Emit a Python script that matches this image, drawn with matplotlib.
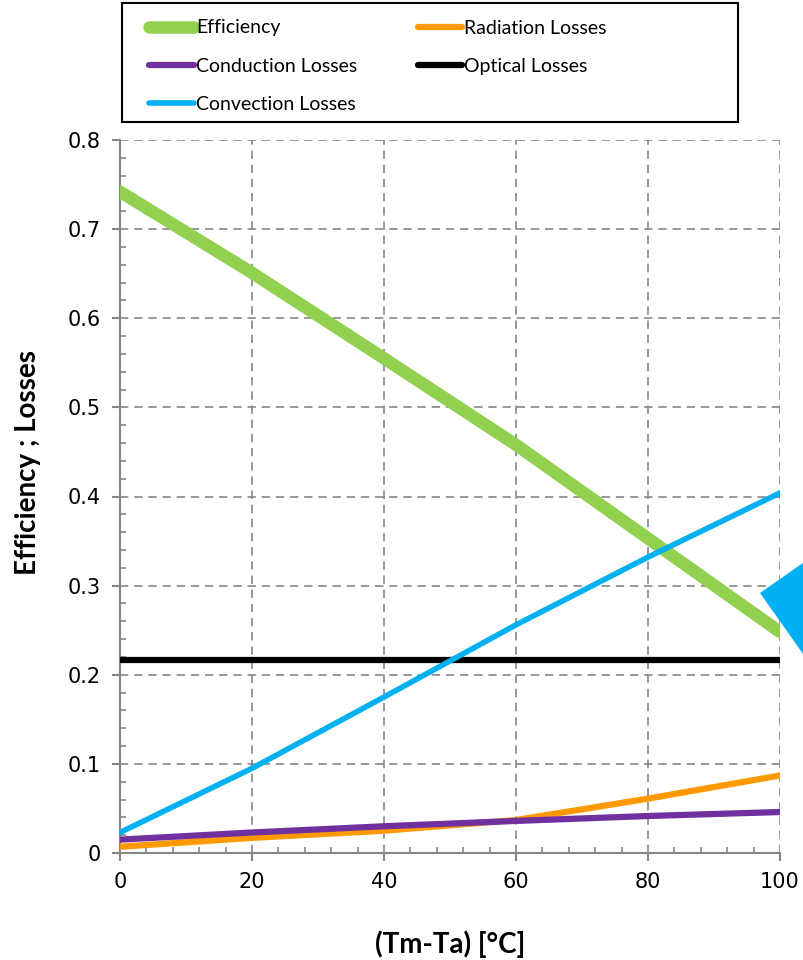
import numpy as np
import matplotlib.pyplot as plt
from matplotlib.patches import Polygon, Rectangle
from matplotlib.ticker import MultipleLocator

dT = [0, 20, 40, 60, 80, 100]
efficiency = [0.742, 0.651, 0.555, 0.458, 0.353, 0.248]
radiation = [0.007, 0.017, 0.025, 0.037, 0.061, 0.087]
conduction = [0.015, 0.023, 0.030, 0.036, 0.0415, 0.046]
optical = [0.216, 0.216, 0.216, 0.216, 0.216, 0.216]
convection = [0.023, 0.095, 0.175, 0.256, 0.332, 0.404]

W, H = 804, 960
fig = plt.figure(figsize=(W / 100, H / 100), dpi=100)
ax = fig.add_axes([120 / W, 1 - 853 / H, 660 / W, 713 / H])

grey = '#868686'
l_eff, = ax.plot(dT, efficiency, color='#92D050', lw=9, solid_capstyle='round', label='Efficiency', zorder=3)
l_rad, = ax.plot(dT, radiation, color='#FF9900', lw=4.5, solid_capstyle='round', label='Radiation Losses', zorder=4)
l_con, = ax.plot(dT, conduction, color='#7030A0', lw=4.5, solid_capstyle='round', label='Conduction Losses', zorder=5)
l_opt, = ax.plot(dT, optical, color='black', lw=4.5, solid_capstyle='round', label='Optical Losses', zorder=6)
l_cnv, = ax.plot(dT, convection, color='#00B0F0', lw=4, solid_capstyle='round', label='Convection Losses', zorder=7)

ax.set_xlim(0, 100)
ax.set_ylim(0, 0.8)
ax.xaxis.set_major_locator(MultipleLocator(20))
ax.xaxis.set_minor_locator(MultipleLocator(4))
ax.yaxis.set_major_locator(MultipleLocator(0.1))
ax.yaxis.set_minor_locator(MultipleLocator(0.02))
ax.set_yticks(np.arange(0, 0.81, 0.1))
ax.set_yticklabels(['0', '0.1', '0.2', '0.3', '0.4', '0.5', '0.6', '0.7', '0.8'])

ax.grid(True, which='major', color=grey, ls=(0, (5, 3.5)), lw=1.2)
for s in ['top', 'right']:
    ax.spines[s].set_visible(False)
for s in ['left', 'bottom']:
    ax.spines[s].set_color(grey)
    ax.spines[s].set_linewidth(1.5)
ax.tick_params(which='major', direction='out', length=6, width=1.5, color=grey, labelsize=15, pad=8)
ax.tick_params(which='minor', direction='in', length=4, width=1.2, color=grey)

lab = dict(family='Lato', fontsize=20, fontweight='bold')
ax.set_xlabel('(Tm-Ta) [°C]', va='center', **lab)
ax.set_ylabel('Efficiency ; Losses', va='center', **lab)
ax.xaxis.set_label_coords(0.5, -0.128)
ax.yaxis.set_label_coords(-0.139, 0.547)

# legend box
fig.patches.append(Rectangle((122 / W, 1 - 122 / H), 616 / W, 119 / H, transform=fig.transFigure,
                             fill=False, edgecolor='black', lw=1.5))
fig.legend(handles=[l_eff, l_con, l_cnv, l_rad, l_opt], ncol=2, frameon=False,
           loc='upper left', bbox_to_anchor=(132 / W, 1 - 2 / H),
           prop={'family': 'Lato', 'size': 14}, handlelength=2.3, handletextpad=0.1,
           columnspacing=3.1, labelspacing=1.1)

# cut-off blue arrow at the right edge
fig.patches.append(Polygon([(760 / W, 1 - 593 / H), (830 / W, 1 - 544 / H), (830 / W, 1 - 692 / H)],
                           closed=True, transform=fig.transFigure, facecolor='#00B0F0', edgecolor='none', zorder=10))

fig.savefig('out.png', dpi=100)
